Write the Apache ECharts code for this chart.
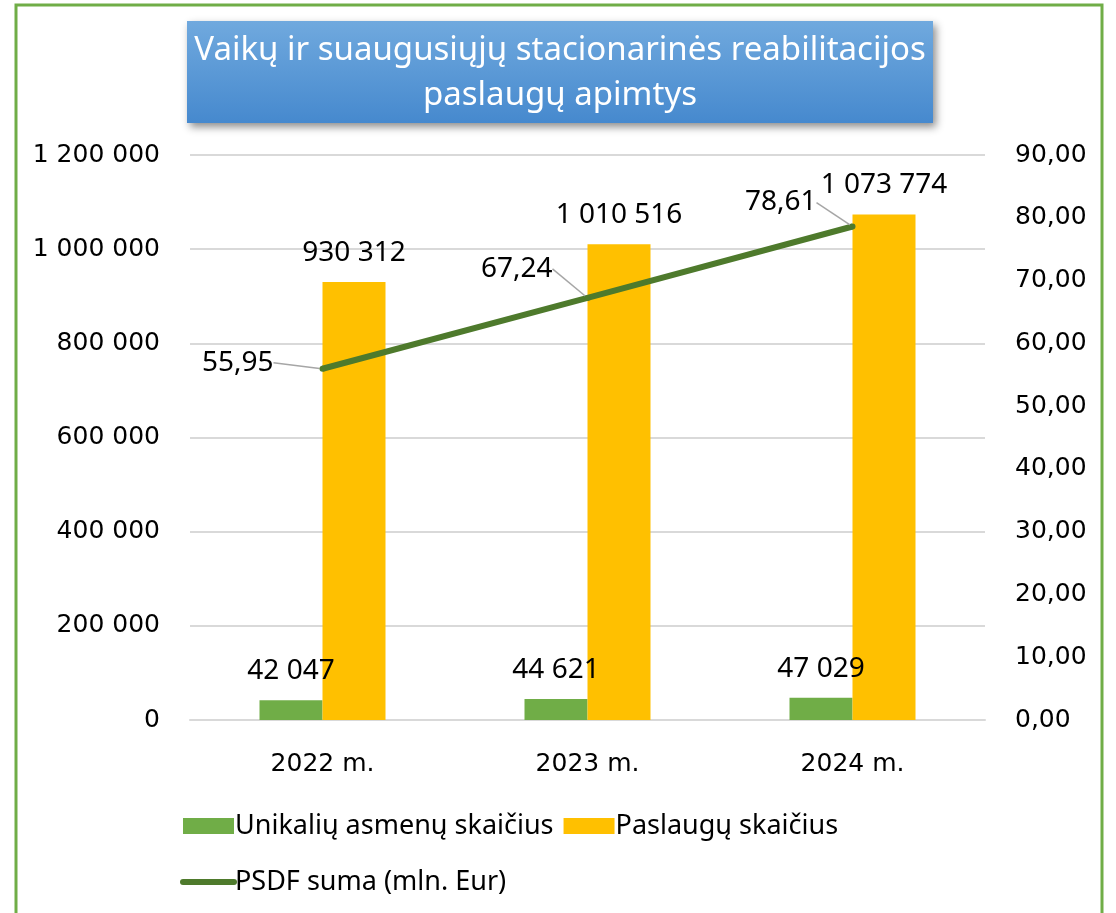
<!DOCTYPE html>
<html>
<head>
<meta charset="utf-8">
<script src="https://cdn.jsdelivr.net/npm/echarts@6/dist/echarts.min.js"></script>
<style>html,body{margin:0;padding:0;background:#fff}#c{width:1116px;height:913px}</style>
</head>
<body>
<div id="c"></div>
<script>
var categories = ['2022 m.', '2023 m.', '2024 m.'];
var unikaliuAsmenu = [42047, 44621, 47029];
var paslauguSkaicius = [930312, 1010516, 1073774];
var psdfSuma = [55.95, 67.24, 78.61];
var seriesNames = ['Unikalių asmenų skaičius', 'Paslaugų skaičius', 'PSDF suma (mln. Eur)'];
var titleLines = ['Vaikų ir suaugusiųjų stacionarinės reabilitacijos', 'paslaugų apimtys'];

// label displacement for line labels (style only)
var lineLabelShift = [[-40, -6], [-26, -29], [-27, -24]];

function fmtThousands(v) {
  return String(Math.round(v)).replace(/\B(?=(\d{3})+(?!\d))/g, ' ');
}
function fmtDec(v) {
  return v.toFixed(2).replace('.', ',');
}

var chart = echarts.init(document.getElementById('c'));
var axisFont = { fontFamily: 'DejaVu Sans', fontSize: 25, color: '#000' };
var labelFont = { fontFamily: 'Noto Sans', fontSize: 28, color: '#000' };

chart.setOption({
  animation: false,
  backgroundColor: '#fff',
  graphic: [
    { type: 'rect', shape: { x: 16, y: 5, width: 1086, height: 1000 },
      style: { fill: 'none', stroke: '#70AD47', lineWidth: 3 }, z: 0 },
    { type: 'rect', shape: { x: 187, y: 21, width: 746, height: 102 },
      style: {
        fill: new echarts.graphic.LinearGradient(0, 0, 0, 1, [
          { offset: 0, color: '#70A9DE' }, { offset: 1, color: '#4689CE' }
        ]),
        shadowBlur: 8, shadowOffsetX: 3, shadowOffsetY: 4, shadowColor: 'rgba(0,0,0,0.45)'
      }, z: 1 },
    { type: 'text', x: 560, y: 51,
      style: { text: titleLines[0], fill: '#fff', font: '33px "Noto Sans"', align: 'center', verticalAlign: 'middle' }, z: 2 },
    { type: 'text', x: 560, y: 96,
      style: { text: titleLines[1], fill: '#fff', font: '33px "Noto Sans"', align: 'center', verticalAlign: 'middle' }, z: 2 }
  ],
  legend: {
    left: 175, top: 798, width: 720,
    itemWidth: 51, itemHeight: 16, itemGap: 10,
    textStyle: { fontFamily: 'Noto Sans', fontSize: 27, color: '#000', lineHeight: 46, padding: [0, 0, 0, -4] },
    data: [
      { name: seriesNames[0], icon: 'rect' },
      { name: seriesNames[1], icon: 'rect' },
      { name: seriesNames[2], itemStyle: { opacity: 0 }, lineStyle: { width: 6, cap: 'round', color: '#4E7A2C' } }
    ]
  },
  grid: { left: 190, right: 131, top: 155, bottom: 193 },
  xAxis: {
    type: 'category', data: categories,
    axisLine: { lineStyle: { color: '#d9d9d9', width: 2 } },
    axisTick: { show: false },
    axisLabel: Object.assign({ margin: 32 }, axisFont)
  },
  yAxis: [
    { type: 'value', min: 0, max: 1200000, interval: 200000,
      axisLine: { show: false }, axisTick: { show: false },
      splitLine: { lineStyle: { color: '#d9d9d9', width: 2 } },
      axisLabel: Object.assign({ margin: 30, formatter: fmtThousands }, axisFont) },
    { type: 'value', min: 0, max: 90, interval: 10, position: 'right',
      axisLine: { show: false }, axisTick: { show: false }, splitLine: { show: false },
      axisLabel: Object.assign({ margin: 30, formatter: fmtDec }, axisFont) }
  ],
  series: [
    { name: seriesNames[0], type: 'bar', data: unikaliuAsmenu, barWidth: 63, barGap: '0%',
      itemStyle: { color: '#70AD47' },
      label: Object.assign({ show: true, position: 'top', distance: 15,
        formatter: function (p) { return fmtThousands(p.value); } }, labelFont), z: 2 },
    { name: seriesNames[1], type: 'bar', data: paslauguSkaicius, barWidth: 63, barGap: '0%',
      itemStyle: { color: '#FFC000' },
      label: Object.assign({ show: true, position: 'top', distance: 15,
        formatter: function (p) { return fmtThousands(p.value); } }, labelFont), z: 2 },
    { name: seriesNames[2], type: 'line', yAxisIndex: 1, data: psdfSuma,
      symbol: 'circle', symbolSize: 6, showSymbol: true,
      lineStyle: { color: '#4E7A2C', width: 6 }, itemStyle: { color: '#4E7A2C' },
      label: Object.assign({ show: true, position: 'left', distance: 6,
        formatter: function (p) { return fmtDec(p.value); } }, labelFont),
      labelLine: { show: true, lineStyle: { color: '#a6a6a6', width: 1.5 } },
      labelLayout: function (p) {
        var s = lineLabelShift[p.dataIndex];
        return { dx: s[0], dy: s[1] };
      },
      z: 5 }
  ]
});
</script>
</body>
</html>
